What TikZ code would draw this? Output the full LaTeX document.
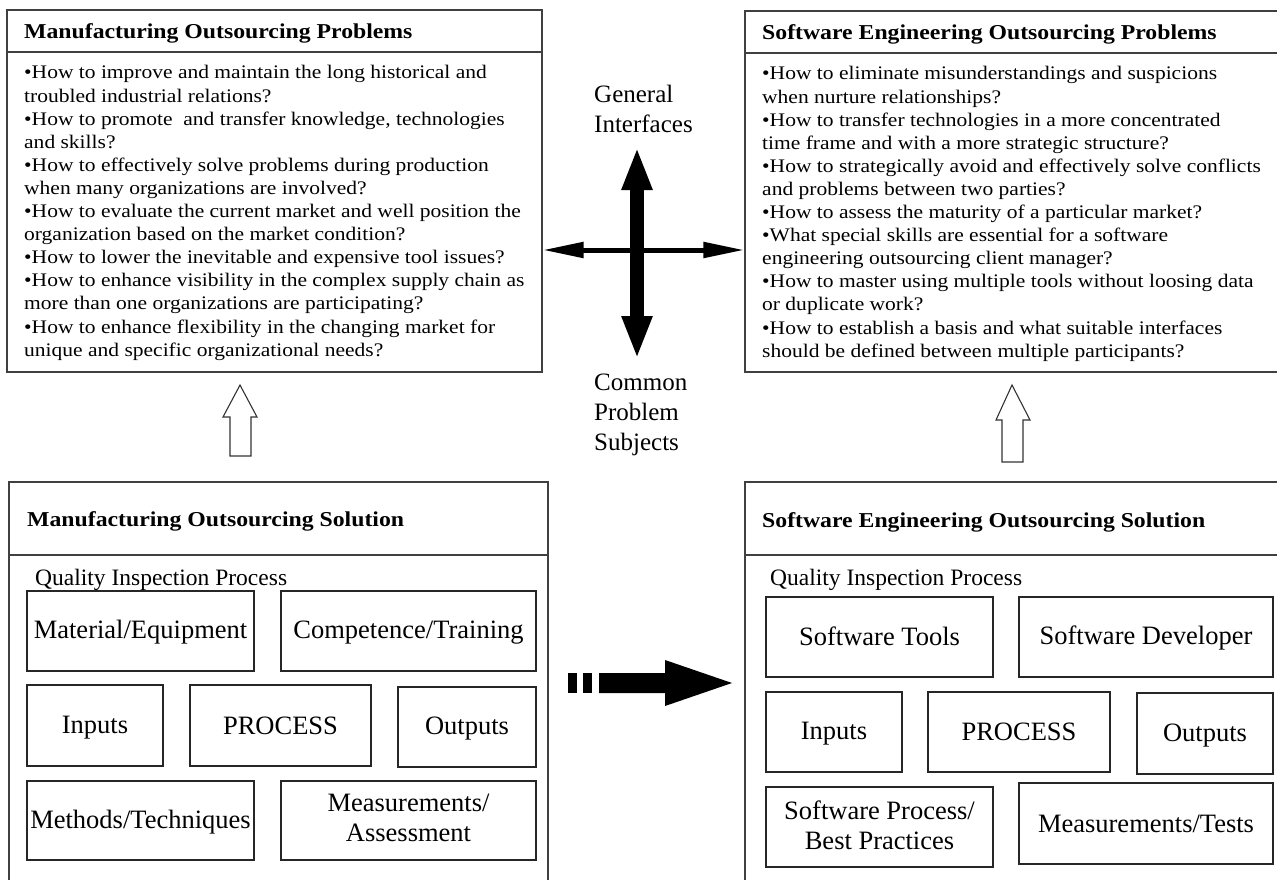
\documentclass[tikz,border=0pt]{standalone}
\usepackage{fontspec}
\setmainfont{Liberation Serif}
\newfontfamily\widefont{Liberation Serif}[FakeStretch=1.12]
\usetikzlibrary{arrows.meta}
\begin{document}
\begin{tikzpicture}[x=1pt,y=-1pt,
  outerbox/.style={draw=black!75, line width=1.1pt, inner sep=0pt},
  itembox/.style={draw=black!85, line width=1.1pt, inner sep=0pt, align=center,
    font=\fontsize{26.5}{30}\selectfont,
    execute at begin node={\rule{0pt}{21.5pt}},
    execute at end node={\rule[-4.5pt]{0pt}{4.5pt}}},
  titletext/.style={anchor=base west, inner sep=0pt,
    font=\widefont\bfseries\fontsize{21.2}{24}\selectfont},
  qiptext/.style={anchor=base west, inner sep=0pt, font=\fontsize{23.5}{26}\selectfont},
  bodytext/.style={anchor=base west, inner sep=0pt},
  sidelabel/.style={anchor=base west, inner sep=0pt, align=left,
    font=\fontsize{25}{30}\selectfont},
  openarrow/.style={draw=black!80, line width=1.1pt, fill=white},
  solidarrow/.style={fill=black, draw=none}
]
\useasboundingbox (0,0) rectangle (1277,880);
\clip (0,0) rectangle (1277,880);

% ---------- outer boxes ----------
\node[outerbox, minimum width=535pt, minimum height=362pt] (tl) at (274.5,191) {};
\node[outerbox, minimum width=545pt, minimum height=361pt] (tr) at (1017.5,191.5) {};
\node[outerbox, minimum width=539pt, minimum height=418pt] (bl) at (278.5,691) {};
\node[outerbox, minimum width=545pt, minimum height=418pt] (br) at (1017.5,691) {};

% header separators
\draw[black!75, line width=1.1pt] (tl.west |- 0,52) -- (tl.east |- 0,52);
\draw[black!75, line width=1.1pt] (tr.west |- 0,53) -- (tr.east |- 0,53);
\draw[black!75, line width=1.1pt] (bl.west |- 0,555) -- (bl.east |- 0,555);
\draw[black!75, line width=1.1pt] (br.west |- 0,555) -- (br.east |- 0,555);

% ---------- titles ----------
\node[titletext] (tltitle) at (24,39) {Manufacturing Outsourcing Problems};
\node[titletext] (trtitle) at (762,40) {Software Engineering Outsourcing Problems};
\node[titletext] (bltitle) at (27,526) {Manufacturing Outsourcing Solution};
\node[titletext] (brtitle) at (762,527) {Software Engineering Outsourcing Solution};

% ---------- problem lists ----------
\node[bodytext] (tlbody) at (24,79) {\parbox[t]{515pt}{\widefont\fontsize{19.2}{23.1}\selectfont
•How to improve and maintain the long historical and\\
troubled industrial relations?\\
•How to promote\ \ and transfer knowledge, technologies\\
and skills?\\
•How to effectively solve problems during production\\
when many organizations are involved?\\
•How to evaluate the current market and well position the\\
organization based on the market condition?\\
•How to lower the inevitable and expensive tool issues?\\
•How to enhance visibility in the complex supply chain as\\
more than one organizations are participating?\\
•How to enhance flexibility in the changing market for\\
unique and specific organizational needs?}};

\node[bodytext] (trbody) at (762,80) {\parbox[t]{515pt}{\widefont\fontsize{19.2}{23.1}\selectfont
•How to eliminate misunderstandings and suspicions\\
when nurture relationships?\\
•How to transfer technologies in a more concentrated\\
time frame and with a more strategic structure?\\
•How to strategically avoid and effectively solve conflicts\\
and problems between two parties?\\
•How to assess the maturity of a particular market?\\
•What special skills are essential for a software\\
engineering outsourcing client manager?\\
•How to master using multiple tools without loosing data\\
or duplicate work?\\
•How to establish a basis and what suitable interfaces\\
should be defined between multiple participants?}};

% ---------- central cross ----------
\coordinate (hub) at (637,250);
\coordinate (vtop) at (637,147);
\coordinate (vbot) at (637,359);
\draw[line width=5pt, {Triangle[length=41pt,width=15pt]}-{Triangle[length=41pt,width=15pt]}]
  (tl.east |- hub) -- (tr.west |- hub);
\draw[line width=14pt, {Triangle[length=43pt,width=28pt]}-{Triangle[length=43pt,width=28pt]}]
  (vtop) -- (vbot);
% anchored on the baseline of the last line
\node[sidelabel] (gi) at (594,132) {General\\Interfaces};
\node[sidelabel] (cps) at (594,450) {Common\\Problem\\Subjects};

% ---------- hollow arrows from solutions to problems ----------
\draw[openarrow] (240,385) -- (257,417) -- (251,417) -- (251,456) -- (230,456)
  -- (230,417) -- (223,417) -- cycle;
\draw[openarrow] (1012,385) -- (1030,420) -- (1023,420) -- (1023,462) -- (1002,462)
  -- (1002,420) -- (996,420) -- cycle;

% ---------- transfer arrow between the solutions ----------
\fill[solidarrow] (568,673) rectangle (577,693);
\fill[solidarrow] (583,673) rectangle (592,693);
\fill[solidarrow] (599,673) -- (665,673) -- (665,660) -- (732,683) -- (665,706)
  -- (665,693) -- (599,693) -- cycle;

% ---------- manufacturing solution ----------
\node[qiptext] (blqip) at (35,585) {Quality Inspection Process};
\node[itembox, minimum width=227pt, minimum height=80pt] (mat) at (140.5,631) {Material/Equipment};
\node[itembox, minimum width=255pt, minimum height=80pt] (comp) at (408.5,631) {Competence/Training};
\node[itembox, minimum width=136pt, minimum height=81pt] (inl) at (95,725.5) {Inputs};
\node[itembox, minimum width=181pt, minimum height=81pt] (procl) at (280.5,725.5) {PROCESS};
\node[itembox, minimum width=138pt, minimum height=80pt] (outl) at (467,727) {Outputs};
\node[itembox, minimum width=227pt, minimum height=79pt] (meth) at (140.5,820.5) {Methods/Techniques};
\node[itembox, minimum width=255pt, minimum height=79pt] (measl) at (408.5,820.5) {Measurements/\\Assessment};

% ---------- software engineering solution ----------
\node[qiptext] (brqip) at (770,585) {Quality Inspection Process};
\node[itembox, minimum width=227pt, minimum height=80pt] (tools) at (879.5,637) {Software Tools};
\node[itembox, minimum width=254pt, minimum height=80pt] (dev) at (1146,637) {Software Developer};
\node[itembox, minimum width=136pt, minimum height=80pt] (inr) at (834,732) {Inputs};
\node[itembox, minimum width=182pt, minimum height=80pt] (procr) at (1019,732) {PROCESS};
\node[itembox, minimum width=136pt, minimum height=81pt] (outr) at (1205,733.5) {Outputs};
\node[itembox, minimum width=227pt, minimum height=80pt] (swp) at (879.5,827) {Software Process/\\Best Practices};
\node[itembox, minimum width=254pt, minimum height=81pt] (measr) at (1146,823.5) {Measurements/Tests};
\end{tikzpicture}
\end{document}
